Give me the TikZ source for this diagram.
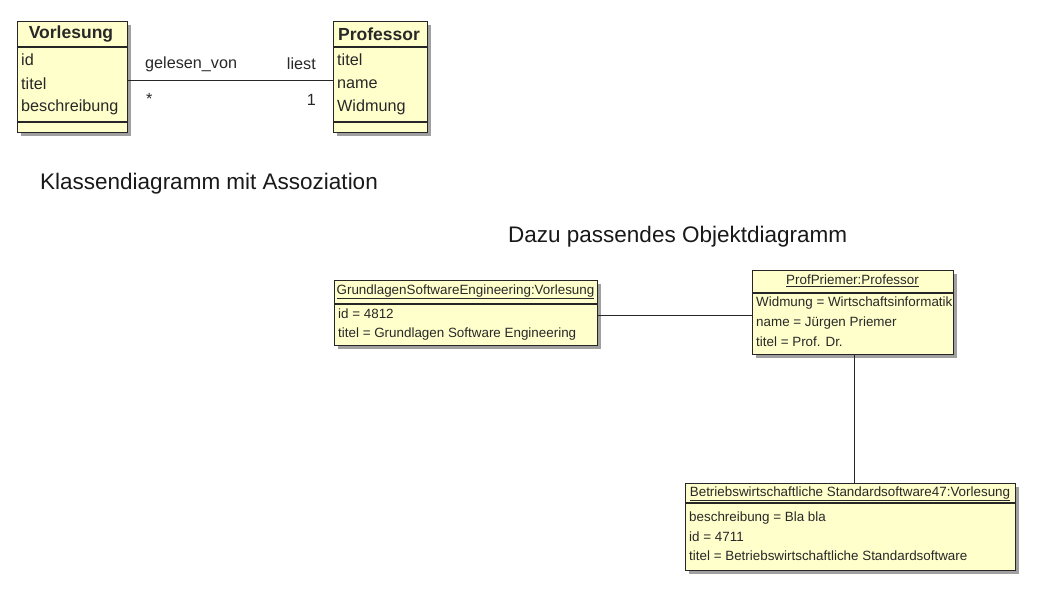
\documentclass[tikz,border=0pt]{standalone}
\usepackage{fontspec}
\setmainfont{Liberation Sans}
\definecolor{umlyellow}{RGB}{255,255,204}
\definecolor{umlshadow}{RGB}{160,160,160}
\definecolor{umltext}{RGB}{40,40,40}
\tikzset{
  umlbox/.style={draw=black!85, fill=umlyellow, line width=1.1pt, inner sep=0pt, anchor=north west},
  shadowbox/.style={fill=umlshadow},
  sepline/.style={draw=black!85, line width=1.1pt},
  cls/.style={font=\fontsize{16.2}{18}\selectfont, text=umltext, inner sep=0pt, anchor=west},
  clshead/.style={font=\fontsize{17.5}{19}\selectfont\bfseries, text=umltext, inner sep=0pt},
  obj/.style={font=\fontsize{13.4}{15}\selectfont, text=umltext, inner sep=0pt, anchor=west},
  objhead/.style={font=\fontsize{13.4}{15}\selectfont, text=umltext, inner sep=0pt},
  title/.style={font=\fontsize{22.5}{25}\selectfont, text=black!90, inner sep=0pt, anchor=west},
  conn/.style={draw=black!85, line width=1pt}
}
\begin{document}
\begin{tikzpicture}[x=1pt,y=-1pt]
\useasboundingbox[fill=white] (0,0) rectangle (1063,600);

% ---------- Class Vorlesung ----------
\fill[shadowbox] (21,25) rectangle (131,136);
\node[umlbox, minimum width=110pt, minimum height=111pt] (vorl) at (17,21) {};
\draw[sepline] (17,47) -- (127,47);
\draw[sepline] (17,122) -- (127,122);
\node[clshead] (vorlname) at (71,34) {Vorlesung};
\node[cls] (va1) at (21,60) {id};
\node[cls] (va2) at (21,84) {titel};
\node[cls] (va3) at (21,107) {beschreibung};

% ---------- Class Professor ----------
\fill[shadowbox] (337,25) rectangle (431,136);
\node[umlbox, minimum width=94pt, minimum height=111pt] (prof) at (333,21) {};
\draw[sepline] (333,47) -- (427,47);
\draw[sepline] (333,122) -- (427,122);
\node[clshead] (profname) at (379,34) {Professor};
\node[cls] (pa1) at (337,60) {titel};
\node[cls] (pa2) at (337,84) {name};
\node[cls] (pa3) at (337,107) {Widmung};

% association
\coordinate (assocL) at (127,80);
\coordinate (assocR) at (333,80);
\draw[conn] (assocL) -- (assocR);
\node[cls] (rl1) at (145,64) {gelesen\_von};
\node[cls, anchor=east] (rl2) at (316,64) {liest};
\node[cls] (m1) at (146,99) {*};
\node[cls, anchor=east] (m2) at (316,100) {1};

% titles
\node[title] (t1) at (40,184) {Klassendiagramm mit Assoziation};
\node[title] (t2) at (508,237) {Dazu passendes Objektdiagramm};

% ---------- Object GrundlagenSoftwareEngineering ----------
\fill[shadowbox] (338,284) rectangle (601,349);
\node[umlbox, minimum width=263pt, minimum height=65pt] (gse) at (334,280) {};
\draw[sepline] (334,304) -- (597,304);
\node[objhead] (gseh) at (465.5,292) {\underline{GrundlagenSoftwareEngineering:Vorlesung}};
\node[obj] (g1) at (338,314) {id = 4812};
\node[obj] (g2) at (338,334) {titel = Grundlagen Software Engineering};

% ---------- Object ProfPriemer ----------
\fill[shadowbox] (756,274) rectangle (957,358);
\node[umlbox, minimum width=201pt, minimum height=84pt] (pp) at (752,270) {};
\draw[sepline] (752,293) -- (953,293);
\node[objhead] (pph) at (852.5,281) {\underline{ProfPriemer:Professor}};
\node[obj] (p1) at (756,303) {Widmung = Wirtschaftsinformatik};
\node[obj] (p2) at (756,323) {name = Jürgen Priemer};
\node[obj] (p3) at (756,342) {titel = Prof. Dr.};

% ---------- Object Betriebswirtschaftliche ----------
\fill[shadowbox] (689,487) rectangle (1019,574);
\node[umlbox, minimum width=330pt, minimum height=87pt] (bws) at (685,483) {};
\draw[sepline] (685,503) -- (1015,503);
\node[objhead] (bwsh) at (850,494) {\underline{Betriebswirtschaftliche Standardsoftware47:Vorlesung}};
\node[obj] (b1) at (689,518) {beschreibung = Bla bla};
\node[obj] (b2) at (689,537) {id = 4711};
\node[obj] (b3) at (689,556) {titel = Betriebswirtschaftliche Standardsoftware};

% links
\draw[conn] (gse.east |- 0,315) -- (pp.west |- 0,315);
\draw[conn] (pp.south -| 854,0) -- (bws.north -| 854,0);
\end{tikzpicture}
\end{document}
